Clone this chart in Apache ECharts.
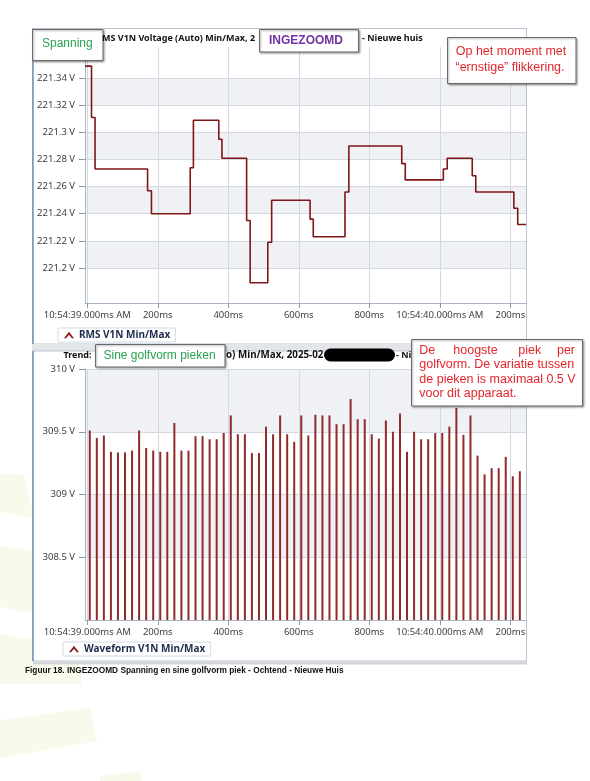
<!DOCTYPE html>
<html>
<head>
<meta charset="utf-8">
<script src="https://cdn.jsdelivr.net/npm/echarts@6/dist/echarts.min.js"></script>
<style>
  html, body { margin: 0; padding: 0; background: #fff; }
  #chart { width: 590px; height: 781px; }
</style>
</head>
<body>
<div id="chart"></div>
<script>
// x axis: milliseconds after 10:54:39.000 AM
const xTickValues = [0, 200, 400, 600, 800, 1000, 1200];
const xTickLabels = ['10:54:39.000ms AM', '200ms', '400ms', '600ms', '800ms', '10:54:40.000ms AM', '200ms'];

// top chart: RMS voltage (step line)
const rmsTicks = [221.2, 221.22, 221.24, 221.26, 221.28, 221.3, 221.32, 221.34];
const rmsTickLabels = ['221.2 V', '221.22 V', '221.24 V', '221.26 V', '221.28 V', '221.3 V', '221.32 V', '221.34 V'];
const rmsTimes = [-6.5, 12, 22, 171, 182, 292, 301, 373, 382, 452, 462, 512, 523, 632, 641, 731, 742,
  892, 902, 1010, 1021, 1092, 1102, 1210, 1221, 1244.5];
const rmsValues = [221.349, 221.311, 221.273, 221.257, 221.240, 221.274, 221.309, 221.295, 221.281,
  221.235, 221.189, 221.219, 221.250, 221.236, 221.223, 221.256, 221.290, 221.277, 221.265,
  221.273, 221.281, 221.268, 221.256, 221.244, 221.232, 221.232];

// bottom chart: peak of each sine cycle
const peakTicks = [308.5, 309, 309.5, 310];
const peakTickLabels = ['308.5 V', '309 V', '309.5 V', '310 V'];
const peakTimes = [7, 27, 47, 67, 87, 107, 127, 147, 167, 187, 207, 227, 247, 267, 287, 307, 327, 347,
  367, 387, 407, 427, 447, 467, 487, 507, 527, 547, 567, 587, 607, 627, 647, 667, 687, 707, 727, 747,
  767, 787, 807, 827, 847, 867, 887, 907, 927, 947, 967, 987, 1007, 1027, 1047, 1067, 1087, 1107,
  1127, 1147, 1167, 1187, 1207, 1227];
const peakValues = [309.51, 309.45, 309.47, 309.34, 309.335, 309.335, 309.35, 309.51, 309.37, 309.35,
  309.34, 309.34, 309.57, 309.35, 309.35, 309.465, 309.465, 309.44, 309.44, 309.49, 309.63, 309.48,
  309.48, 309.33, 309.33, 309.54, 309.48, 309.63, 309.48, 309.42, 309.63, 309.47, 309.635, 309.63,
  309.63, 309.56, 309.56, 309.76, 309.6, 309.6, 309.48, 309.445, 309.59, 309.5, 309.645, 309.34,
  309.5, 309.44, 309.44, 309.49, 309.49, 309.54, 309.69, 309.475, 309.63, 309.31, 309.16, 309.21,
  309.21, 309.3, 309.145, 309.185];

const labelFor = (ticks, labels) => (v) => {
  const i = ticks.findIndex((t) => Math.abs(t - v) < 1e-6);
  return i < 0 ? '' : labels[i];
};

const axisFont = { color: '#404040', fontSize: 9.5, fontFamily: 'Noto Sans' };
const axisLineColor = '#a9b5c5';
const gridLineColor = '#d2d9e3';
const caret = 'path://M0,8 L6,0 L12,8 L9.4,8 L6,3.6 L2.6,8 Z';

const xAxisFor = (gridIndex) => ({
  gridIndex,
  type: 'value',
  min: -6.5,
  max: 1244.5,
  axisLine: { show: true, onZero: false, lineStyle: { color: axisLineColor } },
  axisTick: { show: true, customValues: xTickValues, length: 5, lineStyle: { color: '#8c99ab' } },
  axisLabel: Object.assign({ customValues: xTickValues, margin: 7, formatter: labelFor(xTickValues, xTickLabels) }, axisFont),
  splitLine: { show: true, lineStyle: { color: gridLineColor } }
});

const yAxisFor = (gridIndex, min, max, ticks, labels) => ({
  gridIndex,
  type: 'value',
  min,
  max,
  axisLine: { show: true, onZero: false, lineStyle: { color: axisLineColor } },
  axisTick: { show: true, customValues: ticks, length: 6, lineStyle: { color: '#8c99ab' } },
  axisLabel: Object.assign({ customValues: ticks, margin: 10, formatter: labelFor(ticks, labels) }, axisFont),
  splitLine: { show: true, lineStyle: { color: gridLineColor } },
  splitArea: { show: true, areaStyle: { color: ['#eff1f5', 'rgba(255,255,255,0)'] } }
});

const txt = (text, x, y, font, fill, extra) => ({
  type: 'text',
  z: 101,
  style: Object.assign({ text, x, y, font, fill, textVerticalAlign: 'middle' }, extra || {})
});

const box = (x, y, w, h) => ({
  type: 'rect',
  z: 100,
  shape: { x, y, width: w, height: h },
  style: { fill: '#fff', stroke: '#6a6a6a', lineWidth: 1, shadowBlur: 2, shadowOffsetX: 1, shadowOffsetY: 1, shadowColor: 'rgba(0,0,0,0.35)' }
});

const wash = (points) => ({ type: 'polygon', z: -3, shape: { points }, style: { fill: '#f8faec' } });

const titleFont = 'bold 9px "Noto Sans"';
const noteFont = '12.5px "Liberation Sans"';
const red = '#e3262c';
const green = '#29a352';

const chart = echarts.init(document.getElementById('chart'), null, { renderer: 'canvas' });

chart.setOption({
  backgroundColor: '#fff',
  animation: false,
  grid: [
    { left: 85, top: 47, width: 441, height: 256 },
    { left: 85, top: 369, width: 441, height: 251 }
  ],
  xAxis: [xAxisFor(0), xAxisFor(1)],
  yAxis: [
    yAxisFor(0, 221.1741, 221.3631, rmsTicks, rmsTickLabels),
    yAxisFor(1, 308, 310, peakTicks, peakTickLabels)
  ],
  legend: [
    {
      left: 58, top: 328, selectedMode: false,
      data: [{ name: 'RMS V1N Min/Max', icon: caret, itemStyle: { color: '#8b1a1a' } }],
      itemWidth: 10, itemHeight: 7, itemGap: 5,
      padding: [2, 5, 2, 6], borderColor: '#d3d9e1', borderWidth: 1, backgroundColor: '#fff',
      textStyle: { fontFamily: 'Noto Sans', fontWeight: 'bold', fontSize: 10, color: '#1d2b4d' }
    },
    {
      left: 63, top: 642, selectedMode: false,
      data: [{ name: 'Waveform V1N Min/Max', icon: caret, itemStyle: { color: '#8b1a1a' } }],
      itemWidth: 10, itemHeight: 7, itemGap: 5,
      padding: [2, 5, 2, 6], borderColor: '#d3d9e1', borderWidth: 1, backgroundColor: '#fff',
      textStyle: { fontFamily: 'Noto Sans', fontWeight: 'bold', fontSize: 10, color: '#1d2b4d' }
    }
  ],
  series: [
    {
      name: 'RMS V1N Min/Max',
      type: 'line',
      xAxisIndex: 0,
      yAxisIndex: 0,
      step: 'end',
      symbol: 'none',
      data: rmsTimes.map((t, i) => [t, rmsValues[i]]),
      lineStyle: { color: '#7e1616', width: 1.6 },
      itemStyle: { color: '#8b1a1a' },
      z: 3
    },
    {
      name: 'Waveform V1N Min/Max',
      type: 'bar',
      xAxisIndex: 1,
      yAxisIndex: 1,
      barWidth: 2,
      data: peakTimes.map((t, i) => [t, peakValues[i]]),
      itemStyle: { color: '#922a2a' },
      z: 3
    }
  ],
  graphic: [
    // faint watermark in the background
    wash([[0, 473], [24, 475], [34, 518], [0, 512]]),
    wash([[0, 546], [34, 551], [34, 614], [0, 607]]),
    wash([[0, 634], [34, 640], [78, 660], [82, 684], [0, 684]]),
    wash([[0, 720], [90, 708], [97, 741], [0, 758]]),
    wash([[100, 776], [140, 771], [142, 781], [100, 781]]),
    // chart panels
    { type: 'rect', z: -2, shape: { x: 32.5, y: 28.5, width: 494, height: 315.5 }, style: { fill: '#fff', stroke: '#b9c4d2', lineWidth: 1 } },
    { type: 'rect', z: -2, shape: { x: 32, y: 344, width: 495, height: 7 }, style: { fill: '#e3e5e9' } },
    { type: 'rect', z: -2, shape: { x: 32.5, y: 351, width: 494, height: 310 }, style: { fill: '#fff', stroke: '#b9c4d2', lineWidth: 1 } },
    { type: 'rect', z: -2, shape: { x: 33, y: 661.5, width: 494, height: 3 }, style: { fill: '#d4d6d9' } },
    { type: 'line', z: -1, shape: { x1: 33, y1: 28.5, x2: 33, y2: 344 }, style: { stroke: '#6f90b8', lineWidth: 1.5 } },
    { type: 'line', z: -1, shape: { x1: 33, y1: 351, x2: 33, y2: 661 }, style: { stroke: '#6f90b8', lineWidth: 1.5 } },
    // chart titles (partly covered by notes)
    txt('MS V1N Voltage (Auto) Min/Max, 2', 102, 38.6, titleFont, '#111'),
    txt('- Nieuwe huis', 362, 38.6, titleFont, '#111'),
    txt('Trend:', 63.5, 355.7, titleFont, '#111'),
    txt('o) Min/Max, 2025-02', 226, 355.7, 'bold 9.8px "Noto Sans"', '#111'),
    { type: 'rect', z: 101, shape: { x: 324, y: 348.5, width: 71, height: 13, r: 6.5 }, style: { fill: '#000' } },
    txt('- Ni', 396, 355.7, titleFont, '#111'),
    // notes
    box(32.5, 29.5, 70.5, 31),
    txt('Spanning', 42, 43.5, '12px "Liberation Sans"', green),
    box(259.5, 29.5, 99, 22.5),
    txt('INGEZOOMD', 269, 40.6, 'bold 12px "Liberation Sans"', '#7232a3'),
    box(447.5, 37.5, 128.5, 46),
    txt('Op het moment met', 511, 51.5, noteFont, red, { textAlign: 'center' }),
    txt('\u201Cernstige\u201D flikkering.', 510, 67.5, noteFont, red, { textAlign: 'center' }),
    box(95.5, 344.5, 129.5, 22.5),
    txt('Sine golfvorm pieken', 103.5, 355.8, '12px "Liberation Sans"', green),
    box(411.5, 339.5, 171, 66.5),
    txt('De', 419.3, 350.7, noteFont, red),
    txt('hoogste', 453.3, 350.7, noteFont, red),
    txt('piek', 518.3, 350.7, noteFont, red),
    txt('per', 575, 350.7, noteFont, red, { textAlign: 'right' }),
    txt('golfvorm. De variatie tussen', 419.3, 364.9, noteFont, red),
    txt('de pieken is maximaal 0.5 V', 419.3, 379.1, noteFont, red),
    txt('voor dit apparaat.', 419.3, 393.3, noteFont, red),
    // caption
    txt('Figuur 18. INGEZOOMD Spanning en sine golfvorm piek - Ochtend - Nieuwe Huis', 25, 670.7, 'bold 8.3px "Liberation Sans"', '#111')
  ]
});
</script>
</body>
</html>
